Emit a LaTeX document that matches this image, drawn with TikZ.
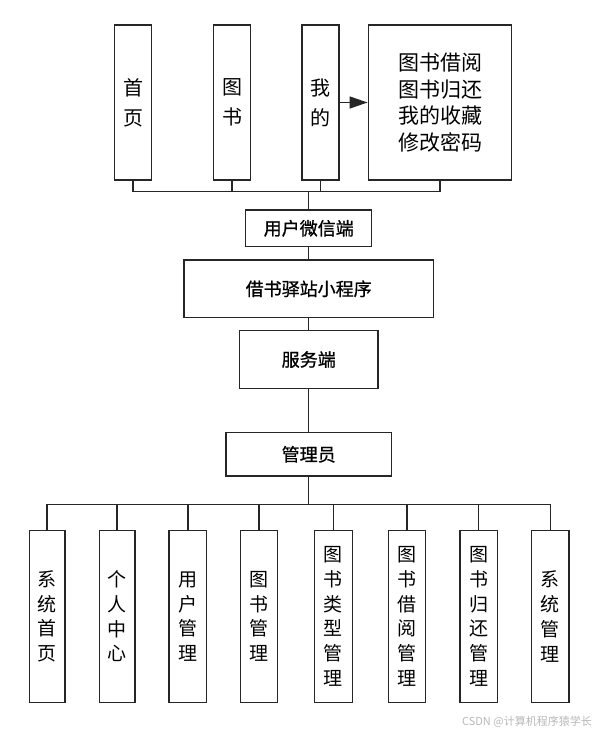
\documentclass[tikz,border=0pt]{standalone}
\usepackage{fontspec}
\setmainfont{Noto Sans CJK SC}
\newfontfamily\midfam[FakeBold=0.8]{Noto Sans CJK SC}
\usetikzlibrary{arrows.meta}
\tikzset{
  box/.style={draw=black!85, line width=1.5pt, inner sep=0pt, align=center, fill=white},
  conn/.style={draw=black!85, line width=1.5pt},
  topfont/.style={font=\fontsize{20}{30}\selectfont},
  bigfont/.style={font=\fontsize{21}{26.7}\selectfont},
  midfont/.style={font=\midfam\fontsize{18}{20}\selectfont},
  botfont/.style={font=\fontsize{19}{24.7}\selectfont},
  wm/.style={font=\fontsize{11}{12}\selectfont, text=black!28, inner sep=0pt}
}
\begin{document}
\begin{tikzpicture}[x=1pt,y=-1pt]
\useasboundingbox (0,0) rectangle (597,733);
% top row
\node[box,topfont,minimum width=37.4,minimum height=155] (sy) at (133,102.5) {首\\页};
\node[box,topfont,minimum width=37.4,minimum height=155] (ts) at (232,102.5) {图\\书};
\node[box,topfont,minimum width=37,minimum height=155] (wd) at (320.5,102.5) {我\\的};
\node[box,bigfont,minimum width=143.4,minimum height=155] (big) at (440,102.5) {图书借阅\\图书归还\\我的收藏\\修改密码};
\draw[conn,-{Triangle[length=18pt,width=12pt]}] (wd.east) -- (big.west);
% middle column
\node[box,midfont,minimum width=126,minimum height=36.7] (wx) at (308.7,228.3) {用户微信端};
\node[box,midfont,minimum width=249.3,minimum height=57.7] (xcx) at (308.7,288.8) {借书驿站小程序};
\node[box,midfont,minimum width=138.4,minimum height=57.6] (fwd) at (308.7,359.5) {服务端};
\node[box,midfont,minimum width=165.7,minimum height=43.3] (gly) at (308.7,454.3) {管理员};
\coordinate (topbus) at (308.7,191.7);
\draw[conn] (sy.south) |- (topbus);
\draw[conn] (ts.south) |- (topbus);
\draw[conn] (wd.south) |- (topbus);
\draw[conn] (big.south) |- (topbus);
\draw[conn] (topbus) -- (wx.north);
\draw[conn] (wx.south) -- (xcx.north);
\draw[conn] (xcx.south) -- (fwd.north);
\draw[conn] (fwd.south) -- (gly.north);
% bottom row
\node[box,botfont,minimum width=35.7,minimum height=171.6] (b1) at (47.2,616.5) {系\\统\\首\\页};
\node[box,botfont,minimum width=35.7,minimum height=171.6] (b2) at (117.2,616.5) {个\\人\\中\\心};
\node[box,botfont,minimum width=37.7,minimum height=171.6] (b3) at (187.8,616.5) {用\\户\\管\\理};
\node[box,botfont,minimum width=37,minimum height=171.6] (b4) at (259.2,616.5) {图\\书\\管\\理};
\node[box,botfont,minimum width=38,minimum height=171.6] (b5) at (333.3,616.5) {图\\书\\类\\型\\管\\理};
\node[box,botfont,minimum width=37.4,minimum height=171.6] (b6) at (407,616.5) {图\\书\\借\\阅\\管\\理};
\node[box,botfont,minimum width=37.3,minimum height=171.6] (b7) at (478.7,616.5) {图\\书\\归\\还\\管\\理};
\node[box,botfont,minimum width=37.3,minimum height=171.6] (b8) at (550.3,616.5) {系\\统\\管\\理};
\coordinate (botbus) at (308.7,504.3);
\draw[conn] (gly.south) -- (botbus);
\foreach \b in {b1,b2,b3,b4,b5,b6,b7,b8} {
  \draw[conn] (\b.north) |- (botbus);
}
% watermark
\node[wm,anchor=east] (wmk) at (592,721.7) {CSDN @计算机程序猿学长};
\end{tikzpicture}
\end{document}
